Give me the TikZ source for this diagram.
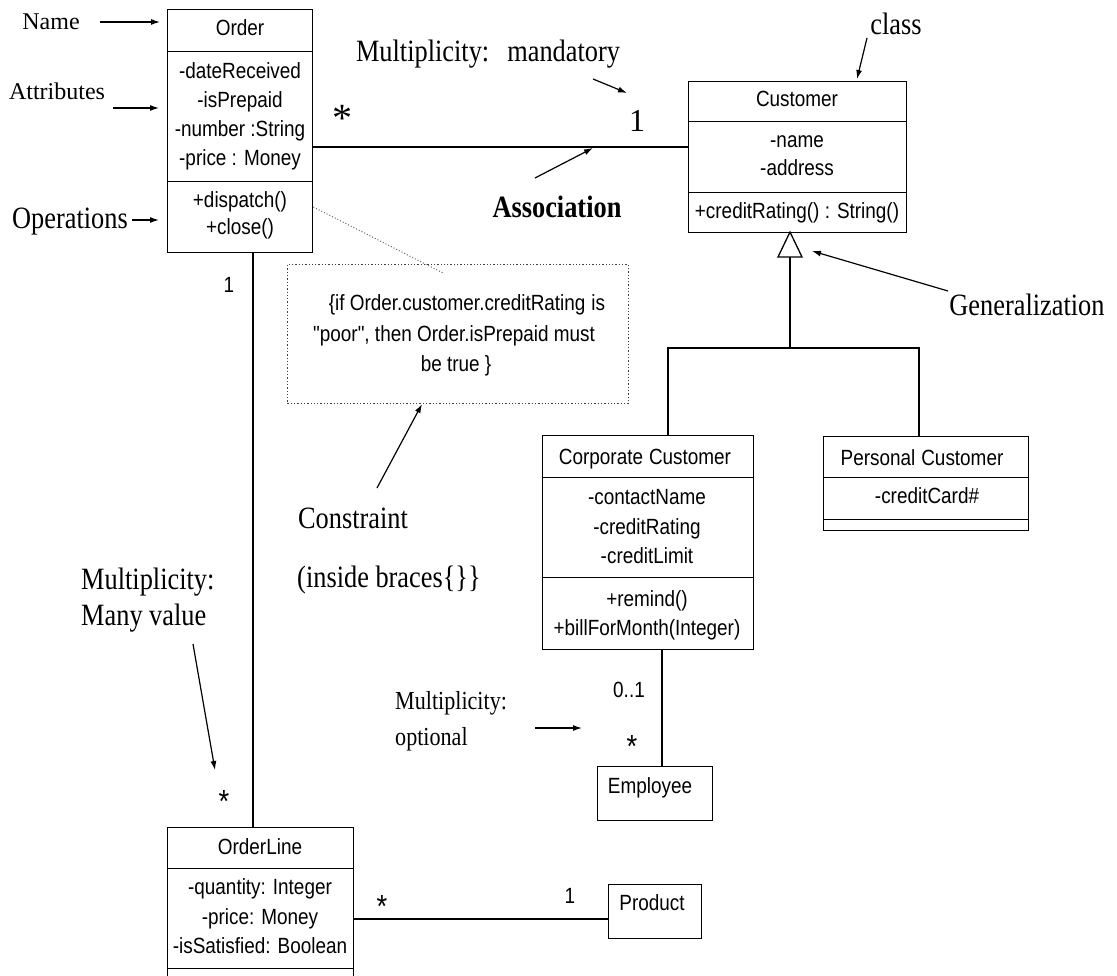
\documentclass[tikz,border=0pt]{standalone}
\usepackage{fontspec}
\setmainfont{Liberation Serif}
\newfontfamily\clsfam{Liberation Sans}[FakeStretch=0.86]
\newfontfamily\annfam{Liberation Serif}[FakeStretch=0.85]
\usetikzlibrary{arrows.meta}
\begin{document}
\begin{tikzpicture}[x=1pt,y=-1pt,
  box/.style={draw, line width=1.3pt, inner sep=0pt, anchor=north west},
  ctext/.style={font=\clsfam\fontsize{22}{26}\selectfont, inner sep=0pt, anchor=base},
  ann/.style={font=\annfam\fontsize{31}{36}\selectfont, inner sep=0pt, anchor=base},
  annsmall/.style={font=\fontsize{24}{28}\selectfont, inner sep=0pt, anchor=base},
  annopt/.style={font=\annfam\fontsize{26}{30}\selectfont, inner sep=0pt, anchor=base west},
  bigstar/.style={font=\fontsize{40}{44}\selectfont, inner sep=0pt, anchor=base},
  sstar/.style={font=\clsfam\fontsize{32}{36}\selectfont, inner sep=0pt, anchor=base},
  ptr/.style={-{Latex[length=9pt,width=6pt]}, line width=1.2pt},
  assoc/.style={line width=1.3pt},
]
\useasboundingbox (0,0) rectangle (1117,976);

% ---------- Order ----------
\node[box, minimum width=145pt, minimum height=42pt] (orderN) at (167,9) {};
\node[box, minimum width=145pt, minimum height=130pt] (orderA) at (167,51) {};
\node[box, minimum width=145pt, minimum height=71pt] (orderO) at (167,181) {};
\node[ctext] (orderT) at (240,36) {Order};
\node[ctext] (orderA1) at (240,79) {-dateReceived};
\node[ctext] (orderA2) at (240,108) {-isPrepaid};
\node[ctext] (orderA3) at (240,137) {-number :String};
\node[ctext] (orderA4) at (240,166) {-price : Money};
\node[ctext] (orderO1) at (240,208) {+dispatch()};
\node[ctext] (orderO2) at (240,235) {+close()};

% ---------- Customer ----------
\node[box, minimum width=218pt, minimum height=40pt] (custN) at (688,81) {};
\node[box, minimum width=218pt, minimum height=71pt] (custA) at (688,121) {};
\node[box, minimum width=218pt, minimum height=40pt] (custO) at (688,192) {};
\node[ctext] (custT) at (797,107) {Customer};
\node[ctext] (custA1) at (797,148) {-name};
\node[ctext] (custA2) at (797,176) {-address};
\node[ctext] (custO1) at (797,219) {+creditRating() : String()};

% ---------- Corporate Customer ----------
\node[box, minimum width=211pt, minimum height=42pt] (corpN) at (542,435) {};
\node[box, minimum width=211pt, minimum height=100pt] (corpA) at (542,477) {};
\node[box, minimum width=211pt, minimum height=72pt] (corpO) at (542,577) {};
\node[ctext] (corpT) at (645,464) {Corporate\hspace{6pt}Customer};
\node[ctext] (corpA1) at (647,504) {-contactName};
\node[ctext] (corpA2) at (647,534) {-creditRating};
\node[ctext] (corpA3) at (647,563) {-creditLimit};
\node[ctext] (corpO1) at (647,606) {+remind()};
\node[ctext] (corpO2) at (647,635) {+billForMonth(Integer)};

% ---------- Personal Customer ----------
\node[box, minimum width=205pt, minimum height=41pt] (persN) at (823,436) {};
\node[box, minimum width=205pt, minimum height=42pt] (persA) at (823,477) {};
\node[box, minimum width=205pt, minimum height=11pt] (persO) at (823,519) {};
\node[ctext] (persT) at (922,465) {Personal\hspace{6pt}Customer};
\node[ctext] (persA1) at (927,503) {-creditCard\#};

% ---------- Employee ----------
\node[box, minimum width=115pt, minimum height=54pt] (emp) at (597,766) {};
\node[ctext] (empT) at (650,793) {Employee};

% ---------- OrderLine ----------
\node[box, minimum width=186pt, minimum height=41pt] (olN) at (167,827) {};
\node[box, minimum width=186pt, minimum height=100pt] (olA) at (167,868) {};
\node[box, minimum width=186pt, minimum height=22pt] (olO) at (167,968) {};
\node[ctext] (olT) at (260,854) {OrderLine};
\node[ctext] (olA1) at (260,894) {-quantity: Integer};
\node[ctext] (olA2) at (260,924) {-price: Money};
\node[ctext] (olA3) at (260,953) {-isSatisfied: Boolean};

% ---------- Product ----------
\node[box, minimum width=93pt, minimum height=54pt] (prod) at (608,884) {};
\node[ctext] (prodT) at (652,910) {Product};

% ---------- Constraint note ----------
\node[box, draw=black!75, dotted, line width=0.9pt, minimum width=341pt, minimum height=139pt] (cons) at (287,264) {};
\node[ctext] (cons1) at (467,311) {\{if Order.customer.creditRating\hspace{6pt}is};
\node[ctext] (cons2) at (454,342) {"poor", then Order.isPrepaid must};
\node[ctext] (cons3) at (456,372) {be true \}};
\coordinate (consIn) at (443,273);
\draw[black!60, dotted, line width=1pt] (orderO.east |- 0,207) -- (consIn);

% ---------- Associations ----------
\draw[assoc] (orderA.east |- 0,147) -- (custA.west |- 0,147);
\draw[assoc] (orderO.south -| 253,0) -- (olN.north -| 253,0);
\draw[assoc] (olA.east |- 0,919) -- (prod.west |- 0,919);
\draw[assoc] (corpO.south -| 662,0) -- (emp.north -| 662,0);

% ---------- Generalization ----------
\coordinate (gtip) at (790,232);
\coordinate (gbase) at (790,257);
\coordinate (gjoin) at (790,348);
\draw[assoc] (gbase) -- (gjoin);
\draw[assoc] (corpN.north -| 668,0) |- (gjoin) -| (persN.north -| 919,0);
\draw[assoc, fill=white] (gtip) -- (778,257) -- (802,257) -- cycle;

% ---------- Multiplicities ----------
\node[bigstar] (mStar1) at (342,132) {*};
\node[font=\fontsize{32}{36}\selectfont, inner sep=0pt, anchor=base] (mOne1) at (637,132) {1};
\node[ctext] (mOne2) at (229,293) {1};
\node[sstar] (mStar2) at (224,812) {*};
\node[sstar] (mStar3) at (382,917) {*};
\node[ctext] (mOne3) at (570,903) {1};
\node[ctext] (mZeroOne) at (629,697) {0..1};
\node[sstar] (mStar4) at (632,757) {*};

% ---------- Annotations ----------
\node[annsmall] (lName) at (51,30) {Name};
\node[annsmall] (lAttr) at (57,100) {Attributes};
\node[ann] (lOps) at (70,229) {Operations};
\node[ann] (lMand) at (488,62) {Multiplicity:\hspace{18pt}mandatory};
\node[ann, font=\annfam\bfseries\fontsize{31}{36}\selectfont] (lAssoc) at (557,218) {Association};
\node[ann] (lClass) at (896,35) {class};
\node[ann] (lGen) at (1027,316) {Generalization};
\node[ann] (lCons) at (353,528) {Constraint};
\node[ann] (lCons2) at (389,587) {(inside braces\{\}\}};
\node[ann, anchor=base west] (lMany1) at (81,589) {Multiplicity:};
\node[ann, anchor=base west] (lMany2) at (81,625) {Many value};
\node[annopt] (lOpt1) at (395,709) {Multiplicity:};
\node[annopt] (lOpt2) at (395,745) {optional};

% annotation arrows
\coordinate (aNameS) at (100,22);   \coordinate (aNameE) at (160,22);
\coordinate (aAttrS) at (113,108);  \coordinate (aAttrE) at (159,108);
\coordinate (aOpsS) at (132,220);   \coordinate (aOpsE) at (159,220);
\coordinate (aMandS) at (593,79);   \coordinate (aMandE) at (627,93);
\coordinate (aAssocS) at (535,178); \coordinate (aAssocE) at (593,148);
\coordinate (aClassS) at (867,38);  \coordinate (aClassE) at (857,79);
\coordinate (aGenS) at (948,291);   \coordinate (aGenE) at (812,251);
\coordinate (aConsS) at (377,488);  \coordinate (aConsE) at (422,404);
\coordinate (aManyS) at (193,644);  \coordinate (aManyE) at (215,770);
\coordinate (aOptS) at (535,728);   \coordinate (aOptE) at (582,728);
\draw[ptr] (aNameS) -- (aNameE);
\draw[ptr] (aAttrS) -- (aAttrE);
\draw[ptr] (aOpsS) -- (aOpsE);
\draw[ptr] (aMandS) -- (aMandE);
\draw[ptr] (aAssocS) -- (aAssocE);
\draw[ptr] (aClassS) -- (aClassE);
\draw[ptr] (aGenS) -- (aGenE);
\draw[ptr] (aConsS) -- (aConsE);
\draw[ptr] (aManyS) -- (aManyE);
\draw[ptr] (aOptS) -- (aOptE);
\end{tikzpicture}
\end{document}
